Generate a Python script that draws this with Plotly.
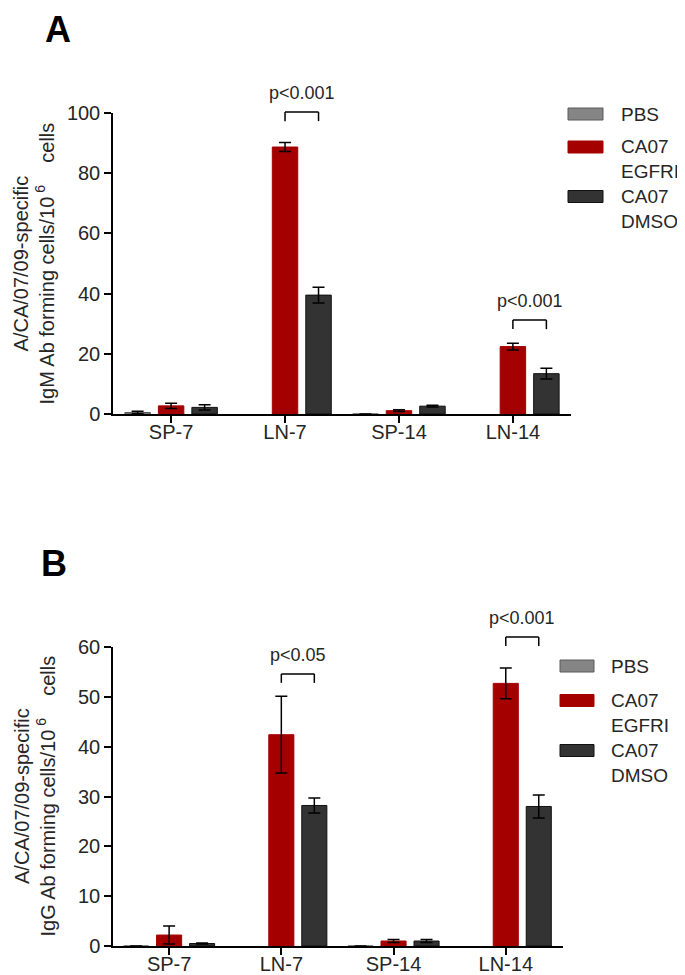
import plotly.graph_objects as go

# ---------------- data ----------------
categories = ["SP-7", "LN-7", "SP-14", "LN-14"]
series_names = ["PBS", "CA07<br>EGFRI", "CA07<br>DMSO"]
series_colors = ["#858585", "#A50000", "#333333"]
series_lines = ["#5a5a5a", "#A50000", "#111111"]

igm_pbs = [0.5, None, 0.0, None]
igm_pbs_err = [0.4, None, 0.0, None]
igm_egfri = [2.7, 88.7, 1.1, 22.4]
igm_egfri_err = [0.9, 1.5, 0.3, 1.1]
igm_dmso = [2.2, 39.5, 2.6, 13.4]
igm_dmso_err = [0.9, 2.6, 0.3, 1.8]

igg_pbs = [0.0, None, 0.0, None]
igg_pbs_err = [0.0, None, 0.0, None]
igg_egfri = [2.2, 42.4, 1.0, 52.7]
igg_egfri_err = [1.8, 7.7, 0.3, 3.1]
igg_dmso = [0.5, 28.2, 1.0, 28.0]
igg_dmso_err = [0.1, 1.5, 0.3, 2.3]

igm_ticks = [0, 20, 40, 60, 80, 100]
igg_ticks = [0, 10, 20, 30, 40, 50, 60]

# significance brackets: (category, label, bracket top value)
igm_sig = [("LN-7", "p<0.001", 100.3), ("LN-14", "p<0.001", 31.2)]
igg_sig = [("LN-7", "p<0.05", 54.6), ("LN-14", "p<0.001", 62.0)]

igm_title = ("A/CA/07/09-specific<br>IgM Ab forming cells/10<sup>&nbsp;6</sup>"
             "&nbsp;&nbsp;&nbsp;&nbsp;cells")
igg_title = ("A/CA/07/09-specific<br>IgG Ab forming cells/10<sup>&nbsp;6</sup>"
             "&nbsp;&nbsp;&nbsp;&nbsp;cells")

# ---------------- layout constants ----------------
VIEW_W, VIEW_H = 685, 975
BODY_MARGIN = 8  # default page margin around the plot div
W, H = VIEW_W - BODY_MARGIN, VIEW_H - BODY_MARGIN
FONT = "Liberation Sans, Arial, sans-serif"
TXT = "#262626"
BARGAP = 0.118
GROUPGAP = 0.24
LEG_FONT = 19


def px_x(p):
    return (p - BODY_MARGIN) / W


def px_y(p):
    return 1 - (p - BODY_MARGIN) / H


fig = go.Figure()

panels = [
    dict(xa="x", ya="y", vals=[(igm_pbs, igm_pbs_err), (igm_egfri, igm_egfri_err), (igm_dmso, igm_dmso_err)],
         ticks=igm_ticks, sig=igm_sig, title=igm_title, letter="A",
         xdom=[px_x(113), px_x(571)], ydom=[px_y(414), px_y(113)], xrange=[-0.51, 3.51],
         letter_pos=(58, BODY_MARGIN), letter_anchor="top", title_x=33,
         leg=dict(sx0=568, sx1=603, tx=619, rows=[114, 147, 196.5])),
    dict(xa="x2", ya="y2", vals=[(igg_pbs, igg_pbs_err), (igg_egfri, igg_egfri_err), (igg_dmso, igg_dmso_err)],
         ticks=igg_ticks, sig=igg_sig, title=igg_title, letter="B",
         xdom=[px_x(113), px_x(563)], ydom=[px_y(946), px_y(647)], xrange=[-0.5, 3.51],
         letter_pos=(54, 563), letter_anchor="middle", title_x=34,
         leg=dict(sx0=560, sx1=594, tx=609, rows=[666, 700.5, 750.5])),
]

shapes = []
annotations = []
layout_axes = {}
line_h = 1.3 * LEG_FONT

for pi, p in enumerate(panels):
    for si, (vals, errs) in enumerate(p["vals"]):
        fig.add_trace(go.Bar(
            x=categories, y=vals, name=series_names[si].replace("<br>", " "),
            xaxis=p["xa"], yaxis=p["ya"], showlegend=False,
            marker=dict(color=series_colors[si], line=dict(color=series_lines[si], width=1)),
            error_y=dict(type="data", array=errs, visible=True, color="black", thickness=1.5, width=6),
        ))
    ymax = p["ticks"][-1]
    suffix = "" if pi == 0 else "2"
    layout_axes["xaxis" + suffix] = dict(
        domain=p["xdom"], anchor=p["ya"], type="category", categoryorder="array",
        categoryarray=categories, range=p["xrange"], showline=True, linecolor="black",
        linewidth=1.5, ticks="outside", ticklen=7, tickwidth=1.5, tickcolor="black",
        showgrid=False, zeroline=False, tickfont=dict(family=FONT, size=20, color=TXT),
        fixedrange=True, automargin=False, ticklabelstandoff=-8,
    )
    layout_axes["yaxis" + suffix] = dict(
        domain=p["ydom"], anchor=p["xa"], range=[0, ymax], tickvals=p["ticks"],
        showline=True, linecolor="black", linewidth=1.5, ticks="outside", ticklen=7,
        tickwidth=1.5, tickcolor="black", showgrid=False, zeroline=False,
        tickfont=dict(family=FONT, size=20, color=TXT), fixedrange=True, automargin=False,
    )
    # significance brackets
    slot = (1 - BARGAP) / 3
    for cat, label, top in p["sig"]:
        idx = categories.index(cat)
        x0, x1 = idx, idx + slot
        yt = top / ymax
        yb = yt - 0.03
        for (a, b, c, d) in [(x0, yb, x0, yt), (x0, yt, x1, yt), (x1, yt, x1, yb)]:
            shapes.append(dict(type="line", xref=p["xa"], yref=p["ya"] + " domain",
                               x0=a, y0=b, x1=c, y1=d, line=dict(color="black", width=1.5)))
        annotations.append(dict(text=label, xref=p["xa"], yref=p["ya"] + " domain",
                                x=(x0 + x1) / 2, y=yt, yanchor="bottom", xanchor="center",
                                yshift=7, showarrow=False,
                                font=dict(family=FONT, size=18, color=TXT)))
    # y-axis title
    annotations.append(dict(text=p["title"], xref="paper", yref=p["ya"] + " domain",
                            x=px_x(p["title_x"]), y=0.5, textangle=-90, showarrow=False,
                            xanchor="center", yanchor="middle",
                            font=dict(family=FONT, size=20, color=TXT)))
    # panel letter
    lx, ly = p["letter_pos"]
    annotations.append(dict(text="<b>%s</b>" % p["letter"], xref="paper", yref="paper",
                            x=px_x(lx), y=px_y(ly), xanchor="center", yanchor=p["letter_anchor"],
                            borderpad=0, showarrow=False,
                            font=dict(family=FONT, size=36, color="black")))
    # legend
    lg = p["leg"]
    for si, name in enumerate(series_names):
        yc = lg["rows"][si]
        shapes.append(dict(type="rect", xref="paper", yref="paper",
                           x0=px_x(lg["sx0"]), x1=px_x(lg["sx1"]),
                           y0=px_y(yc + 6), y1=px_y(yc - 6),
                           fillcolor=series_colors[si],
                           line=dict(color=series_lines[si], width=1)))
        nlines = len(name.split("<br>"))
        annotations.append(dict(text=name, xref="paper", yref="paper", align="left",
                                x=px_x(lg["tx"]), y=px_y(yc + (nlines - 1) * line_h / 2),
                                xanchor="left", yanchor="middle", showarrow=False,
                                font=dict(family=FONT, size=LEG_FONT, color=TXT)))

fig.update_layout(
    width=W, height=H, autosize=False, margin=dict(l=0, r=0, t=0, b=0, pad=0),
    paper_bgcolor="white", plot_bgcolor="white",
    barmode="group", bargap=BARGAP, bargroupgap=GROUPGAP,
    showlegend=False, shapes=shapes, annotations=annotations,
    font=dict(family=FONT, color=TXT),
    **layout_axes,
)

fig.write_html("out.html")
